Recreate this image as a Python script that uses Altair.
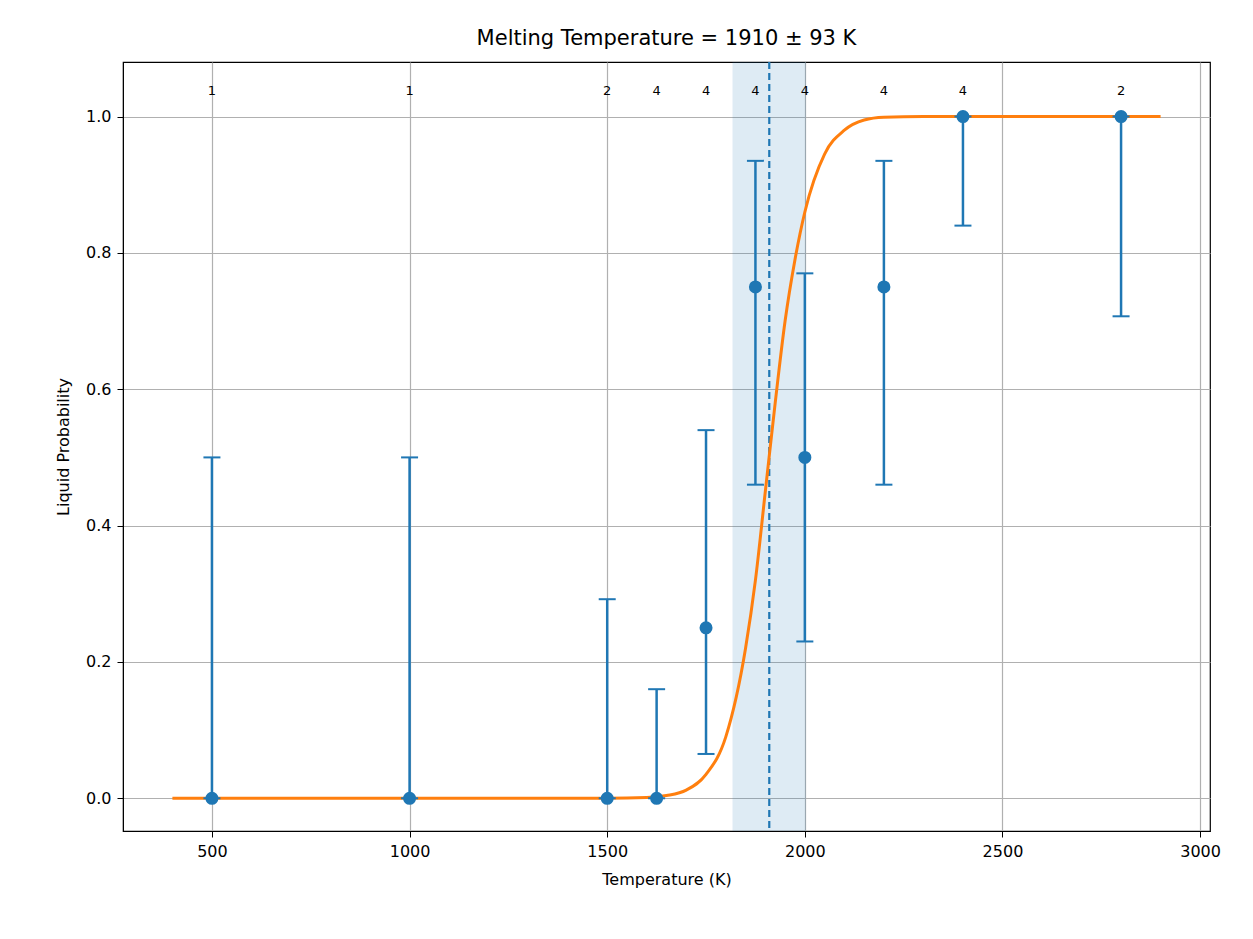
import altair as alt
import pandas as pd

# measured points
temps = [500, 1000, 1500, 1625, 1750, 1875, 2000, 2200, 2400, 2800]
prob = [0.0, 0.0, 0.0, 0.0, 0.25, 0.75, 0.5, 0.75, 1.0, 1.0]
err_lo = [0.0, 0.0, 0.0, 0.0, 0.065, 0.46, 0.23, 0.46, 0.84, 0.707]
err_hi = [0.5, 0.5, 0.292, 0.16, 0.54, 0.935, 0.77, 0.935, 1.0, 1.0]
counts = [1, 1, 2, 4, 4, 4, 4, 4, 4, 2]

# fitted curve
fit_t = [400, 1500, 1600, 1650, 1700, 1750, 1800, 1850, 1875, 1900, 1925,
         1950, 1975, 2000, 2050, 2100, 2150, 2200, 2300, 2900]
fit_p = [0.0, 0.0, 0.001, 0.004, 0.012, 0.035, 0.09, 0.22, 0.32, 0.45, 0.58,
         0.70, 0.79, 0.86, 0.945, 0.98, 0.995, 0.999, 1.0, 1.0]

tm, tm_err = 1910, 93

pts = pd.DataFrame({"T": temps, "p": prob, "lo": err_lo, "hi": err_hi,
                    "n": [str(c) for c in counts], "ty": [1.037] * len(temps)})
fit = pd.DataFrame({"T": fit_t, "p": fit_p})
band = pd.DataFrame({"a": [tm - tm_err], "b": [tm + tm_err], "m": [tm]})

blue = "#1f77b4"
orange = "#ff7f0e"

xs = alt.Scale(domain=[275, 3025], nice=False, zero=False)
ys = alt.Scale(domain=[-0.048, 1.08], nice=False)
xax = alt.Axis(values=[500, 1000, 1500, 2000, 2500, 3000], title="Temperature (K)",
               grid=True, gridColor="#b0b0b0", format="d", labelPadding=6, titlePadding=12)
yax = alt.Axis(values=[0, 0.2, 0.4, 0.6, 0.8, 1.0], title="Liquid Probability",
               grid=True, gridColor="#b0b0b0", format=".1f", labelPadding=6, titlePadding=14)

shade = alt.Chart(band).mark_rect(color=blue, opacity=0.15).encode(
    x=alt.X("a:Q", scale=xs, axis=xax), x2="b:Q",
    y=alt.value(0), y2=alt.value(769)
)
mline = alt.Chart(band).mark_rule(color=blue, strokeDash=[7, 4], strokeWidth=2.2).encode(
    x=alt.X("m:Q", scale=xs)
)
curve = alt.Chart(fit).mark_line(color=orange, strokeWidth=3, interpolate="monotone").encode(
    x=alt.X("T:Q", scale=xs), y=alt.Y("p:Q", scale=ys, axis=yax)
)
bars = alt.Chart(pts).mark_rule(color=blue, strokeWidth=2.5).encode(
    x=alt.X("T:Q", scale=xs), y=alt.Y("lo:Q", scale=ys), y2="hi:Q"
)
cap_lo = alt.Chart(pts).mark_tick(color=blue, opacity=1, thickness=2, size=17, orient="horizontal").encode(
    x=alt.X("T:Q", scale=xs), y=alt.Y("lo:Q", scale=ys)
)
cap_hi = alt.Chart(pts).mark_tick(color=blue, opacity=1, thickness=2, size=17, orient="horizontal").encode(
    x=alt.X("T:Q", scale=xs), y=alt.Y("hi:Q", scale=ys)
)
dots = alt.Chart(pts).mark_circle(color=blue, opacity=1, size=170).encode(
    x=alt.X("T:Q", scale=xs), y=alt.Y("p:Q", scale=ys)
)
labels = alt.Chart(pts).mark_text(fontSize=13, font="DejaVu Sans", color="black").encode(
    x=alt.X("T:Q", scale=xs), y=alt.Y("ty:Q", scale=ys), text="n:N"
)

chart = alt.layer(shade, mline, curve, bars, cap_lo, cap_hi, dots, labels).properties(
    width=1087, height=769,
    title=alt.Title(f"Melting Temperature = {tm} ± {tm_err} K", fontSize=21,
                    font="DejaVu Sans", fontWeight="normal", offset=12),
    autosize=alt.AutoSizeParams(type="none"),
    padding={"left": 115, "top": 54, "right": 35, "bottom": 100},
).configure_axis(
    labelFont="DejaVu Sans", titleFont="DejaVu Sans", labelFontSize=16,
    titleFontSize=16, titleFontWeight="normal", labelColor="black",
    titleColor="black", domainColor="black", tickColor="black", tickSize=6,
    gridWidth=1.2
).configure_view(stroke="black", strokeWidth=1.2)

chart.save("out.html", embed_options={"renderer": "svg", "actions": False})
